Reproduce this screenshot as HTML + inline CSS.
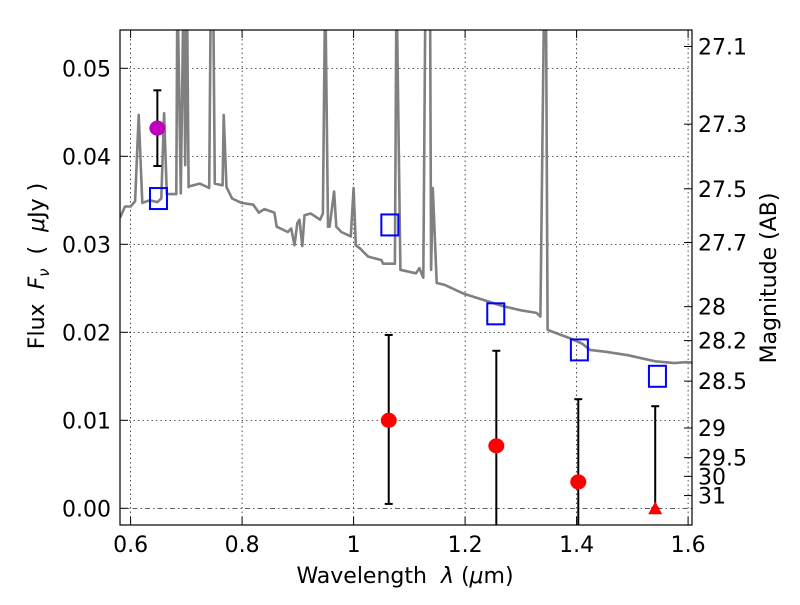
<!DOCTYPE html>
<html><head><meta charset="utf-8"><style>
html,body{margin:0;padding:0;background:#fff;}
svg text{font-family:"DejaVu Sans","Liberation Sans",sans-serif;fill:#000;}
</style></head><body>
<svg id="chart" width="800" height="600" viewBox="0 0 800 600">
<defs><clipPath id="plotclip"><rect x="120" y="30" width="572" height="495"/></clipPath></defs>
<rect width="800" height="600" fill="#fff"/>
<g id="grid"></g>
<g id="spec" clip-path="url(#plotclip)"></g>
<g id="marks" clip-path="url(#plotclip)"></g>
<rect x="120" y="30" width="572" height="495" fill="none" stroke="#000" stroke-width="1.2"/>
<g id="axes"></g>
<text x="405" y="583" font-size="22" text-anchor="middle" xml:space="preserve">Wavelength  <tspan font-style="italic">λ</tspan> (<tspan font-style="italic">μ</tspan>m)</text>
<text transform="translate(44,266) rotate(-90)" font-size="22" text-anchor="middle" xml:space="preserve">Flux  <tspan font-style="italic">F</tspan><tspan font-style="italic" font-size="15" dy="5">ν</tspan><tspan dy="-5">  (  </tspan><tspan font-style="italic">μ</tspan>Jy )</text>
<text transform="translate(776,278) rotate(-90)" font-size="22" text-anchor="middle">Magnitude (AB)</text>
</svg>
<script>
const xTicks=[0.6,0.8,1.0,1.2,1.4,1.6];
const xTickLabels=["0.6","0.8","1","1.2","1.4","1.6"];
const yTicks=[0,0.01,0.02,0.03,0.04,0.05];
const yTickLabels=["0.00","0.01","0.02","0.03","0.04","0.05"];
const magTicks=[27.1,27.3,27.5,27.7,28,28.2,28.5,29,29.5,30,31];
const magTickLabels=["27.1","27.3","27.5","27.7","28","28.2","28.5","29","29.5","30","31"];
const specWave=[0.581,0.590,0.600,0.608,0.6145,0.621,0.634,0.648,0.655,0.660,0.665,0.682,0.684,0.690,0.695,0.698,0.701,0.704,0.706,0.724,0.741,0.744,0.748,0.751,0.765,0.767,0.772,0.782,0.799,0.820,0.830,0.840,0.858,0.862,0.882,0.888,0.894,0.899,0.903,0.908,0.912,0.923,0.940,0.945,0.949,0.954,0.957,0.965,0.969,0.978,0.995,1.000,1.004,1.012,1.026,1.050,1.053,1.074,1.077,1.084,1.091,1.112,1.118,1.125,1.129,1.137,1.139,1.142,1.149,1.163,1.197,1.232,1.266,1.300,1.328,1.335,1.342,1.345,1.348,1.355,1.389,1.410,1.424,1.451,1.492,1.520,1.541,1.575,1.596,1.620];
const specFlux=[0.0330,0.0343,0.0343,0.0349,0.0447,0.0347,0.0350,0.0348,0.0352,0.0449,0.0357,0.0357,0.0600,0.0358,0.0600,0.0390,0.0600,0.0365,0.0366,0.0369,0.0364,0.0600,0.0600,0.0369,0.0367,0.0447,0.0365,0.0352,0.0347,0.0345,0.0336,0.0340,0.0336,0.0320,0.0314,0.0318,0.0299,0.0324,0.0328,0.0298,0.0333,0.0335,0.0328,0.0335,0.0600,0.0320,0.0320,0.0360,0.0320,0.0314,0.0309,0.0364,0.0299,0.0295,0.0286,0.0282,0.0278,0.0278,0.0600,0.0271,0.0270,0.0267,0.0273,0.0262,0.0600,0.0600,0.0271,0.0364,0.0256,0.0254,0.0244,0.0237,0.0230,0.0225,0.0222,0.0218,0.0600,0.0600,0.0203,0.0201,0.0193,0.0187,0.0180,0.0178,0.0174,0.0170,0.0167,0.0165,0.0166,0.0165];
const obsWave=[1.063,1.256,1.403];
const obsFlux=[0.0100,0.0071,0.0030];
const obsLo=[0.0005,-0.010,-0.010];
const obsHi=[0.0197,0.0179,0.0124];
const limWave=[1.541];
const limFlux=[0.0];
const limHi=[0.0116];
const optWave=[0.648];
const optFlux=[0.0432];
const optLo=[0.0389];
const optHi=[0.0475];
const modelWave=[0.650,1.065,1.255,1.405,1.545];
const modelFlux=[0.0352,0.0322,0.0221,0.0180,0.0150];

const X=l=>130.6+(l-0.6)*557.5;
const Y=f=>508.3-f*8800;
const NS="http://www.w3.org/2000/svg";
function mk(tag,attrs,parent){const e=document.createElementNS(NS,tag);for(const k in attrs)e.setAttribute(k,attrs[k]);parent.appendChild(e);return e;}
const grid=document.getElementById('grid'),axes=document.getElementById('axes'),spec=document.getElementById('spec'),marks=document.getElementById('marks');

xTicks.forEach((t,i)=>{
  const x=X(t);
  const g=mk('line',{x1:x,x2:x,y1:30,y2:525,stroke:'#000','stroke-width':0.7,'stroke-dasharray':'1.5,3'},grid);
  
  
  const tk=mk('line',{x1:x,x2:x,y1:525,y2:517,stroke:'#000','stroke-width':1},axes);
  
  
  const tk2=mk('line',{x1:x,x2:x,y1:30,y2:38,stroke:'#000','stroke-width':1},axes);
  
  
  const tx=mk('text',{x:x,y:552,'font-size':22,'text-anchor':'middle'},axes);
  tx.textContent=xTickLabels[i];
  
  
});
yTicks.forEach((t,i)=>{
  const y=Y(t);
  const g=mk('line',{x1:120,x2:692,y1:y,y2:y,stroke:'#000','stroke-width':0.7,'stroke-dasharray':t===0?'5,3,1.5,3':'1.5,3'},grid);
  
  
  const tk=mk('line',{x1:120,x2:128,y1:y,y2:y,stroke:'#000','stroke-width':1},axes);
  
  
  const tx=mk('text',{x:111,y:y+8,'font-size':22,'text-anchor':'end'},axes);
  tx.textContent=yTickLabels[i];
  
  
});
magTicks.forEach((m,i)=>{
  const f=Math.pow(10,(23.9-m)/2.5);
  const y=Y(f);
  const tk=mk('line',{x1:684,x2:692,y1:y,y2:y,stroke:'#000','stroke-width':1},axes);
  
  
  const tx=mk('text',{x:698,y:y+8,'font-size':22,'text-anchor':'start'},axes);
  tx.textContent=magTickLabels[i];
  
  
});

const pts=specWave.map((l,i)=>X(l).toFixed(1)+','+Y(specFlux[i]).toFixed(1)).join(' ');
const pl=mk('polyline',{points:pts,fill:'none',stroke:'#808080','stroke-width':2.6,'stroke-linejoin':'round'},spec);



modelWave.forEach((l,i)=>{
  const r=mk('rect',{x:X(l)-8.5,y:Y(modelFlux[i])-10.5,width:17,height:21,fill:'none',stroke:'#0000ff','stroke-width':2},marks);
  
  
});
function errbar(x,lo,hi){
  const g=mk('g',{stroke:'#000','stroke-width':2},marks);
  
  
  mk('line',{x1:x,x2:x,y1:Y(lo),y2:Y(hi)},g);
  mk('line',{x1:x-4,x2:x+4,y1:Y(hi),y2:Y(hi)},g);
  mk('line',{x1:x-4,x2:x+4,y1:Y(lo),y2:Y(lo)},g);
}
optWave.forEach((l,i)=>{
  errbar(X(l),optLo[i],optHi[i]);
  const c=mk('ellipse',{cx:X(l),cy:Y(optFlux[i]),rx:8,ry:7.5,fill:'#bf00bf'},marks);
  
  
});
obsWave.forEach((l,i)=>{
  errbar(X(l),obsLo[i],obsHi[i]);
  const c=mk('ellipse',{cx:X(l),cy:Y(obsFlux[i]),rx:8,ry:7.5,fill:'#ff0000'},marks);
  
  
});
limWave.forEach((l,i)=>{
  errbar(X(l),limFlux[i],limHi[i]);
  const x=X(l),y=Y(limFlux[i]);
  const t=mk('polygon',{points:`${x},${y-7} ${x-7},${y+6} ${x+7},${y+6}`,fill:'#ff0000'},marks);
  
  
});
</script>
</body></html>
